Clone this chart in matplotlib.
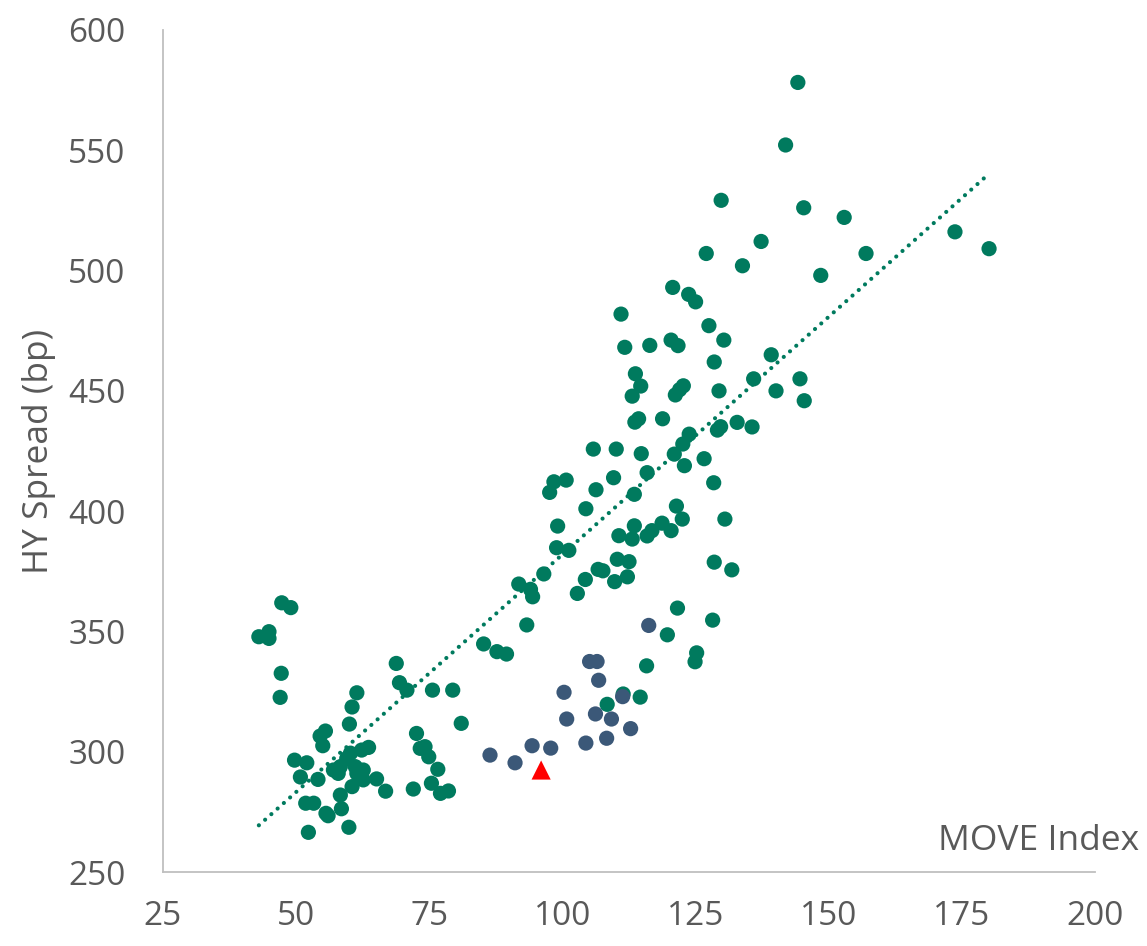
import numpy as np
import matplotlib
matplotlib.use("Agg")
from matplotlib import pyplot as plt

plt.rcParams['font.family'] = ['Open Sans', 'DejaVu Sans']

# MOVE Index vs HY Spread (bp) - history
move_hist = [144.2, 141.9, 129.8, 145.3, 152.9, 173.7, 180.1, 137.3, 127.0, 157.0, 133.8, 148.5,
             120.7, 123.7, 125.0, 111.0, 127.5,
             111.7, 116.4, 120.4, 121.7, 130.3, 128.5, 139.2, 113.7, 114.7, 113.1, 122.7, 122.0,
             121.2, 129.4, 135.9, 144.6, 140.1, 145.4, 113.6, 114.3, 118.8, 123.8, 122.6, 121.0,
             122.9, 126.6, 128.4, 129.1, 129.7, 132.8, 135.6, 110.1, 114.8, 109.6, 115.9, 106.3,
             113.5, 121.4, 122.5, 130.5, 113.5, 118.7, 120.4, 110.6, 113.1, 115.9, 116.8, 110.3,
             112.5, 107.6, 112.2, 109.8, 128.5, 131.8,
             105.8, 98.4, 100.7, 97.6, 104.4, 99.1, 98.9, 101.2, 96.5, 91.8, 94.0, 94.4, 104.3,
             106.7, 102.8, 93.3, 85.2, 87.7, 89.5, 121.6, 119.7, 128.2, 125.2, 124.9, 115.8,
             114.6, 111.4, 108.4, 79.4, 81.0,
             47.3, 49.0, 43.0, 44.9, 44.9, 47.2, 47.0, 68.8, 69.4, 70.8, 75.6, 61.4, 60.5, 60.0,
             55.5, 54.5, 55.0, 49.7, 52.0, 50.8, 54.1, 51.8, 53.3, 58.3, 58.5, 55.6, 56.0, 52.3,
             59.9, 57.0, 57.9, 58.3, 59.5, 60.2, 61.1, 61.4, 62.6, 62.6, 60.5, 62.3, 63.6, 65.1,
             66.8, 72.6, 73.3, 74.2, 74.9, 76.6, 75.4, 77.1, 78.6, 72.0]
hy_hist = [578.2, 552.2, 529.2, 526.1, 522.1, 516.1, 509.1, 512.1, 507.1, 507.1, 502.0, 498.0,
           493.0, 490.1, 487.0, 481.9, 477.1,
           468.1, 468.9, 471.1, 468.8, 471.1, 462.0, 465.0, 457.1, 452.0, 447.8, 452.1, 450.5,
           448.3, 450.0, 455.0, 455.0, 450.0, 445.9, 437.0, 438.4, 438.4, 432.0, 427.9, 423.7,
           418.9, 421.8, 411.8, 433.7, 435.1, 436.9, 435.0, 425.8, 423.9, 413.9, 416.0, 408.9,
           407.0, 402.1, 396.7, 396.7, 393.9, 395.0, 391.9, 389.8, 388.4, 389.7, 391.9, 380.0,
           379.0, 375.2, 372.7, 370.7, 378.8, 375.6,
           425.8, 412.2, 412.9, 407.8, 401.0, 393.8, 384.8, 383.7, 373.9, 369.7, 367.5, 364.4,
           371.6, 375.8, 365.8, 352.7, 344.8, 341.6, 340.6, 359.7, 348.6, 354.7, 341.1, 337.4,
           335.7, 322.7, 324.0, 319.7, 325.6, 311.8,
           361.9, 359.9, 347.8, 349.9, 347.1, 332.6, 322.6, 336.7, 328.7, 325.6, 325.6, 324.5,
           318.6, 311.5, 308.6, 306.5, 302.5, 296.5, 295.4, 289.5, 288.5, 278.6, 278.6, 282.0,
           276.3, 274.4, 273.4, 266.5, 268.6, 292.4, 291.0, 293.8, 297.2, 299.4, 293.8, 291.0,
           292.4, 288.3, 285.5, 300.7, 301.8, 288.7, 283.6, 307.6, 301.4, 302.1, 297.9, 292.7,
           286.9, 282.7, 283.7, 284.5]

# recent period
move_recent = [116.2, 105.1, 106.5, 106.8, 100.3, 111.3, 106.2, 109.2, 100.8, 112.8, 108.3,
               104.4, 94.3, 97.8, 86.4, 91.1]
hy_recent = [352.5, 337.5, 337.5, 329.7, 324.7, 322.9, 315.7, 313.6, 313.6, 309.6, 305.6,
             303.6, 302.5, 301.5, 298.6, 295.4]

# latest
move_now = [96.0]
hy_now = [292.4]

green = '#007A5E'
navy = '#3B5878'
grey = '#595959'

fig = plt.figure(figsize=(11.47, 9.46), dpi=100)
ax = fig.add_axes([0.1421, 0.0782, 0.8126, 0.8901])

ax.scatter(move_hist, hy_hist, s=120, color=green, edgecolors='none', zorder=3)
ax.scatter(move_recent, hy_recent, s=120, color=navy, edgecolors='none', zorder=4)
ax.scatter(move_now, hy_now, s=190, marker='^', color='#FF0000', edgecolors='none', zorder=5)

# linear trendline over the history
x_hist = np.array(move_hist)
coef = np.polyfit(x_hist, np.array(hy_hist), 1)
xt = np.array([x_hist.min(), x_hist.max()])
ax.plot(xt, np.polyval(coef, xt), color=green, lw=3, linestyle=(0, (0.01, 2.0)),
        dash_capstyle='round', zorder=6)

ax.set_xlim(25, 200)
ax.set_ylim(250, 600)
ax.set_xticks(np.arange(25, 201, 25))
ax.set_yticks(np.arange(250, 601, 50))
ax.tick_params(axis='both', length=0, labelsize=24, labelcolor=grey)
ax.tick_params(axis='y', pad=27)
ax.tick_params(axis='x', pad=20)

for side in ['top', 'right']:
    ax.spines[side].set_visible(False)
for side in ['left', 'bottom']:
    ax.spines[side].set_color('#BFBFBF')
    ax.spines[side].set_linewidth(1.3)

fig.text(0.034, 0.0782 + 0.8901 / 2, 'HY Spread (bp)', rotation=90, ha='center', va='center',
         fontsize=25.5, color=grey)
ax.text(1.047, 0.037, 'MOVE Index', transform=ax.transAxes, ha='right', va='center',
        fontsize=25.5, color=grey)

fig.savefig('out.png', dpi=100)
